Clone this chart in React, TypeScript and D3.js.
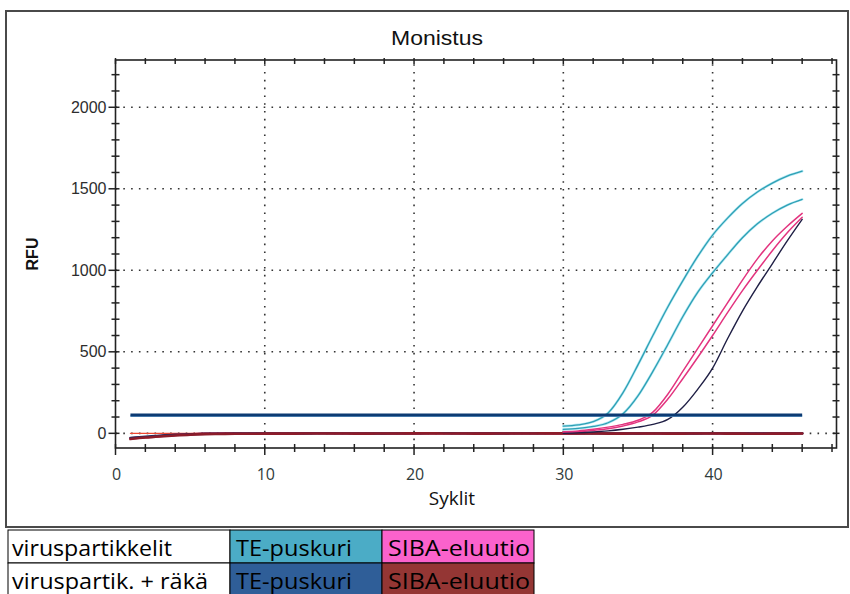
import React from "react";
import * as d3 from "d3";

// Amplification curves (RFU per cycle)
const CYCLES = [1, 2, 3, 4, 5, 6, 7, 8, 9, 10, 11, 12, 13, 14, 15, 16, 17, 18, 19, 20, 21, 22, 23, 24, 25, 26, 27, 28, 29, 30, 31, 32, 33, 34, 35, 36, 37, 38, 39, 40, 41, 42, 43, 44, 45, 46];
const LATE_CYCLES = [30, 31, 32, 33, 34, 35, 36, 37, 38, 39, 40, 41, 42, 43, 44, 45, 46];

const TE_VIRUS_1 = [44, 52, 72, 125, 250, 420, 600, 775, 935, 1085, 1216, 1320, 1410, 1480, 1535, 1578, 1608];
const TE_VIRUS_2 = [24, 30, 42, 65, 120, 230, 380, 545, 715, 865, 985, 1095, 1200, 1285, 1350, 1400, 1435];
const SIBA_VIRUS_1 = [10, 15, 25, 38, 55, 80, 130, 240, 380, 520, 660, 800, 940, 1070, 1180, 1270, 1349];
const SIBA_VIRUS_2 = [5, 10, 18, 28, 45, 70, 112, 210, 335, 465, 600, 740, 875, 1000, 1120, 1230, 1325];
const TE_SPUTUM = [0, 3, 8, 15, 25, 38, 55, 85, 160, 270, 400, 580, 750, 900, 1040, 1180, 1312];

// Non-amplifying wells
const SIBA_SPUTUM_A = [-35, -26, -19, -13, -8, -5, -4, -3, -3, -2, -2, -2, -1, -1, -1, -2, -2, -1, -1, 0, 0, -1, -1, -2, -2, -1, -1, -1, 0, 0, -1, -1, -2, -2, -1, -1, -2, -2, -1, -1, -2, -2, -3, -2, -2, -1];
const SIBA_SPUTUM_B = [-28, -20, -14, -9, -6, -3, -2, -1, -1, 0, 0, -1, -1, 0, 0, 0, -1, -1, 0, 0, 1, 1, 0, 0, -1, -1, 0, 0, 1, 1, 0, 0, 0, -1, -1, 0, 0, -1, -1, 0, 0, -1, -1, 0, 0, 0];
const SIBA_SPUTUM_C = [-30, -24, -16, -10, -5, -2, -1, -1, 0, 0, 0, 0, 1, 1, 0, 0, 0, -1, -1, -1, 0, 0, 0, 0, 1, 0, 0, 0, -1, -1, -1, 0, 0, 0, -1, -1, -1, 0, 0, 0, -1, -1, -1, -1, 0, 0];
const ZERO_LINE = [0, 0, 0, 0, 0, 0, 0, 0, 0, 0, 0, 0, 0, 0, 0, 0, 0, 0, 0, 0, 0, 0, 0, 0, 0, 0, 0, 0, 0, 0, 0, 0, 0, 0, 0, 0, 0, 0, 0, 0, 0, 0, 0, 0, 0, 0];

const THRESHOLD = 112;

const X_TICKS = [0, 10, 20, 30, 40];
const Y_TICKS = [0, 500, 1000, 1500, 2000];

const LEGEND_ROWS = ["viruspartikkelit", "viruspartik. + räkä"];
const LEGEND_COLS = ["TE-puskuri", "SIBA-eluutio"];
const LEGEND_FILLS = [
  ["#4bacc6", "#fb62cc"],
  ["#2f5e98", "#943634"],
];

const W = 850;
const H = 594;

const x = d3.scaleLinear().domain([0, 48.3]).range([115.5, 836.5]);
const y = d3.scaleLinear().domain([-90, 2290]).range([448, 60]);

const line = d3
  .line<[number, number]>()
  .x((d) => x(d[0]))
  .y((d) => y(d[1]))
  .curve(d3.curveMonotoneX);

const zip = (xs: number[], ys: number[]): [number, number][] => xs.map((c, i) => [c, ys[i]]);

export default function App() {
  const [x0, x1] = x.range();
  const [yb, yt] = y.range();
  const minorX = d3.range(0, 49, 2);
  const minorY = d3.range(0, 2300, 100);

  const axisFont = "'Liberation Sans', Arial, sans-serif";

  return (
    <svg
      width={W}
      height={H}
      style={{ position: "absolute", left: 0, top: 0, background: "#fff" }}
      fontFamily={axisFont}
    >
      {/* outer frame */}
      <rect x={6} y={11} width={842} height={516} fill="#fff" stroke="#4a4a4a" strokeWidth={2} />

      <text x={437} y={45} textAnchor="middle" fontSize={20} fill="#111" textLength={92} lengthAdjust="spacingAndGlyphs">
        Monistus
      </text>

      {/* dotted grid */}
      <g stroke="#333" strokeWidth={1.6} strokeDasharray="1.6,6.2">
        {X_TICKS.filter((t) => t > 0).map((t) => (
          <line key={`gx${t}`} x1={x(t)} x2={x(t)} y1={yb} y2={yt} />
        ))}
        {Y_TICKS.map((t) => (
          <line key={`gy${t}`} x1={x0} x2={x1} y1={y(t)} y2={y(t)} />
        ))}
      </g>

      {/* plot border */}
      <rect x={x0} y={yt} width={x1 - x0} height={yb - yt} fill="none" stroke="#222" strokeWidth={1.6} />

      {/* ticks */}
      <g stroke="#222" strokeWidth={1.5}>
        {minorY.map((v) => (
          <g key={`ty${v}`}>
            <line x1={x0 - (v % 500 === 0 ? 7 : 4)} x2={x0 + 4} y1={y(v)} y2={y(v)} />
            <line x1={x1 - 4} x2={x1 + 3} y1={y(v)} y2={y(v)} />
          </g>
        ))}
        {minorX.map((c) => (
          <g key={`tx${c}`}>
            <line x1={x(c)} x2={x(c)} y1={yb - 4} y2={yb + (c % 10 === 0 ? 7 : 4)} />
            <line x1={x(c)} x2={x(c)} y1={yt - 2} y2={yt + 4} />
          </g>
        ))}
      </g>

      {/* tick labels */}
      <g fontSize={16} fill="#2d2d2d" textAnchor="end">
        {Y_TICKS.map((t) => (
          <text key={`ly${t}`} x={x0 - 9} y={y(t) + 5.5}>
            {t}
          </text>
        ))}
      </g>
      <g fontSize={16} fill="#2f3b3b" textAnchor="middle" fontFamily="'Open Sans', sans-serif">
        {X_TICKS.map((t) => (
          <text key={`lx${t}`} x={x(t) + 1} y={480}>
            {t}
          </text>
        ))}
      </g>

      <text
        transform={`translate(38,${(yb + yt) / 2}) rotate(-90)`}
        textAnchor="middle"
        fontSize={16}
        fontWeight="bold"
        fill="#111"
      >
        RFU
      </text>
      <text x={452} y={505} textAnchor="middle" fontSize={19} fill="#111" fontFamily="'Open Sans', sans-serif">
        Syklit
      </text>

      {/* curves */}
      <g fill="none" strokeLinejoin="round" strokeLinecap="round">
        <path d={line(zip(CYCLES, ZERO_LINE)) || ""} stroke="#ef4a34" strokeWidth={1.2} />
        <path d={line(zip(CYCLES, SIBA_SPUTUM_C)) || ""} stroke="#d3184a" strokeWidth={2.4} />
        <path d={line(zip(CYCLES, SIBA_SPUTUM_B)) || ""} stroke="#2a2c5e" strokeWidth={2.4} />
        <path d={line(zip(CYCLES, SIBA_SPUTUM_A)) || ""} stroke="#8c1c2a" strokeWidth={2.6} />

        <path d={line(zip(LATE_CYCLES, TE_VIRUS_1)) || ""} stroke="#b4eaf4" strokeWidth={2.6} />
        <path d={line(zip(LATE_CYCLES, TE_VIRUS_1)) || ""} stroke="#2e9fb4" strokeWidth={1.3} />
        <path d={line(zip(LATE_CYCLES, TE_VIRUS_2)) || ""} stroke="#b4eaf4" strokeWidth={2.6} />
        <path d={line(zip(LATE_CYCLES, TE_VIRUS_2)) || ""} stroke="#2e9fb4" strokeWidth={1.3} />
        <path d={line(zip(LATE_CYCLES, SIBA_VIRUS_1)) || ""} stroke="#e3347f" strokeWidth={1.5} />
        <path d={line(zip(LATE_CYCLES, SIBA_VIRUS_2)) || ""} stroke="#e3347f" strokeWidth={1.5} />
        <path d={line(zip(LATE_CYCLES, TE_SPUTUM)) || ""} stroke="#1f1f45" strokeWidth={1.4} />
      </g>

      {/* threshold */}
      <line x1={x(1)} x2={x(46)} y1={y(THRESHOLD) + 1} y2={y(THRESHOLD) + 1} stroke="#7fb6e0" strokeWidth={2} />
      <line x1={x(1)} x2={x(46)} y1={y(THRESHOLD)} y2={y(THRESHOLD)} stroke="#0d3b73" strokeWidth={3} />

      {/* legend table */}
      <g fontFamily="'Open Sans', sans-serif" fontSize={22} fill="#000">
        {LEGEND_ROWS.map((r, i) => {
          const top = 530 + i * 33;
          return (
            <g key={r}>
              <rect x={8} y={top} width={222} height={33} fill="#fff" stroke="#000" strokeWidth={1} />
              <text x={12} y={top + 26} textLength={i === 0 ? 160 : 196} lengthAdjust="spacingAndGlyphs">
                {r}
              </text>
              {LEGEND_COLS.map((c, j) => (
                <g key={c}>
                  <rect x={230 + j * 152} y={top} width={152} height={33} fill={LEGEND_FILLS[i][j]} stroke="#000" strokeWidth={1} />
                  <text x={236 + j * 152} y={top + 26} textLength={j === 0 ? 116 : 142} lengthAdjust="spacingAndGlyphs">
                    {c}
                  </text>
                </g>
              ))}
            </g>
          );
        })}
      </g>
    </svg>
  );
}
